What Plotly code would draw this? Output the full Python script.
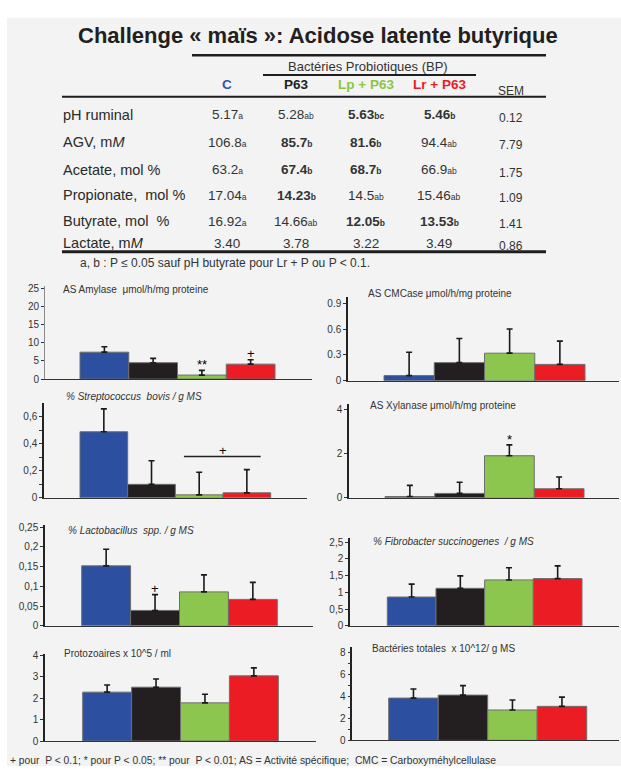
import plotly.graph_objects as go

W, H = 621, 772

# ---------------- data ----------------
title = "Challenge « maïs »: Acidose latente butyrique"
group_header = "Bactéries Probiotiques (BP)"
groups = ["C", "P63", "Lp + P63", "Lr + P63"]

row_labels = ["pH ruminal", "AGV, m<i>M</i>", "Acetate, mol %", "Propionate,  mol %",
              "Butyrate, mol  %", "Lactate, m<i>M</i>"]
val_C = ["5.17", "106.8", "63.2", "17.04", "16.92", "3.40"]
let_C = ["a", "a", "a", "a", "a", ""]
bold_C = [0, 0, 0, 0, 0, 0]
val_P63 = ["5.28", "85.7", "67.4", "14.23", "14.66", "3.78"]
let_P63 = ["ab", "b", "b", "b", "ab", ""]
bold_P63 = [0, 1, 1, 1, 0, 0]
val_Lp = ["5.63", "81.6", "68.7", "14.5", "12.05", "3.22"]
let_Lp = ["bc", "b", "b", "ab", "b", ""]
bold_Lp = [1, 1, 1, 0, 1, 0]
val_Lr = ["5.46", "94.4", "66.9", "15.46", "13.53", "3.49"]
let_Lr = ["b", "ab", "ab", "ab", "b", ""]
bold_Lr = [1, 0, 0, 0, 1, 0]
sem_vals = ["0.12", "7.79", "1.75", "1.09", "1.41", "0.86"]
table_note = "a, b : P ≤ 0.05 sauf pH butyrate pour Lr + P ou P < 0.1."
footnote = "+ pour  P < 0.1; * pour P < 0.05; ** pour  P < 0.01; AS = Activité spécifique;  CMC = Carboxyméhylcellulase"

amylase = [7.4, 4.5, 1.1, 4.1]
amylase_err = [1.5, 1.2, 1.3, 1.2]
amylase_sig = ["", "", "**", "+"]
amylase_ticks = [0, 5, 10, 15, 20, 25]
amylase_ticktext = ["0", "5", "10", "15", "20", "25"]

cmcase = [0.06, 0.21, 0.32, 0.19]
cmcase_err = [0.27, 0.28, 0.28, 0.27]
cmcase_sig = ["", "", "", ""]
cmcase_ticks = [0, 0.3, 0.6, 0.9]
cmcase_ticktext = ["0", "0.3", "0.6", "0.9"]

strep = [0.49, 0.10, 0.022, 0.037]
strep_err = [0.17, 0.175, 0.168, 0.172]
strep_sig = ["", "", "", ""]
strep_ticks = [0, 0.2, 0.4, 0.6]
strep_ticktext = ["0", "0,2", "0,4", "0,6"]
strep_bracket = 0.307

xylanase = [0.06, 0.2, 1.9, 0.41]
xylanase_err = [0.5, 0.5, 0.49, 0.53]
xylanase_sig = ["", "", "*", ""]
xylanase_ticks = [0, 2, 4]
xylanase_ticktext = ["0", "2", "4"]

lacto = [0.152, 0.039, 0.086, 0.067]
lacto_err = [0.042, 0.04, 0.043, 0.043]
lacto_sig = ["", "+", "", ""]
lacto_ticks = [0, 0.05, 0.1, 0.15, 0.2, 0.25]
lacto_ticktext = ["0", "0,05", "0,1", "0,15", "0,2", "0,25"]

fibro = [0.86, 1.12, 1.37, 1.41]
fibro_err = [0.385, 0.37, 0.365, 0.38]
fibro_sig = ["", "", "", ""]
fibro_ticks = [0, 0.5, 1, 1.5, 2, 2.5]
fibro_ticktext = ["0", "0,5", "1", "1,5", "2", "2,5"]

proto = [2.28, 2.51, 1.78, 3.04]
proto_err = [0.33, 0.38, 0.40, 0.37]
proto_sig = ["", "", "", ""]
proto_ticks = [0, 1, 2, 3, 4]
proto_ticktext = ["0", "1", "2", "3", "4"]

bact = [3.83, 4.1, 2.75, 3.08]
bact_err = [0.83, 0.86, 0.9, 0.84]
bact_sig = ["", "", "", ""]
bact_ticks = [0, 2, 4, 6, 8]
bact_ticktext = ["0", "2", "4", "6", "8"]

# ---------------- styles ----------------
FONT = "Liberation Sans, Arial, sans-serif"
bar_colors = ["#2c4f9f", "#231f20", "#8dc64f", "#ec1c24"]
head_colors = ["#3355b5", "#222222", "#8dc63f", "#ec1c24"]
TXT = "#2a2a2a"


def px(p):
    return p / W


def py(p):
    return 1 - p / H


def note(x, y, text, size, color="#333", xa="center", ya="middle", **kw):
    return dict(xref="paper", yref="paper", x=px(x), y=py(y), text=text, showarrow=False,
                xanchor=xa, yanchor=ya, font=dict(size=size, color=color), **kw)


panels = [
    dict(title="AS Amylase  μmol/h/mg proteine", v=amylase, e=amylase_err, s=amylase_sig,
         tv=amylase_ticks, tt=amylase_ticktext, top=25.5, box=(45, 312, 380, 286),
         bars=(80, 275), tpos=(61, 289), minor=None, lc="#8a8a8a", lw=1),
    dict(title="AS CMCase μmol/h/mg proteine", v=cmcase, e=cmcase_err, s=cmcase_sig,
         tv=cmcase_ticks, tt=cmcase_ticktext, top=0.97, box=(348, 619, 381.7, 297),
         bars=(384, 585), tpos=(366, 293), minor=None, lc="#222", lw=1.5),
    dict(title="<i>% Streptococcus  bovis / g MS</i>", v=strep, e=strep_err, s=strep_sig,
         tv=strep_ticks, tt=strep_ticktext, top=0.705, box=(44, 307, 500.3, 404),
         bars=(80, 270.7), tpos=(64, 398), minor=[0.1, 0.3, 0.5], lc="#222", lw=1.5),
    dict(title="AS Xylanase μmol/h/mg proteine", v=xylanase, e=xylanase_err, s=xylanase_sig,
         tv=xylanase_ticks, tt=xylanase_ticktext, top=4.25, box=(349, 619, 500.3, 405),
         bars=(385, 584), tpos=(368, 407), minor=None, lc="#222", lw=1.5),
    dict(title="<i>% Lactobacillus  spp. / g MS</i>", v=lacto, e=lacto_err, s=lacto_sig,
         tv=lacto_ticks, tt=lacto_ticktext, top=0.255, box=(45, 313, 630, 528),
         bars=(81.7, 277.3), tpos=(66, 533.5), minor=None, lc="#222", lw=1.5),
    dict(title="<i>% Fibrobacter succinogenes  / g MS</i>", v=fibro, e=fibro_err, s=fibro_sig,
         tv=fibro_ticks, tt=fibro_ticktext, top=2.63, box=(350, 619, 630, 540.7),
         bars=(387.3, 582), tpos=(371, 545), minor=None, lc="#222", lw=1.5),
    dict(title="Protozoaires x 10^5 / ml", v=proto, e=proto_err, s=proto_sig,
         tv=proto_ticks, tt=proto_ticktext, top=4.07, box=(45, 315.7, 746.7, 658.3),
         bars=(82.7, 278.3), tpos=(62, 658.5), minor=None, lc="#222", lw=1.5),
    dict(title="Bactéries totales  x 10^12/ g MS", v=bact, e=bact_err, s=bact_sig,
         tv=bact_ticks, tt=bact_ticktext, top=8.5, box=(352.3, 619, 746, 651),
         bars=(388.7, 586.7), tpos=(370, 652.5), minor=[1, 3, 5, 7], lc="#222", lw=1.5),
]

fig = go.Figure()
layout = dict(width=W, height=H, margin=dict(l=0, r=0, t=0, b=0), showlegend=False,
              paper_bgcolor="white", plot_bgcolor="rgba(0,0,0,0)",
              font=dict(family=FONT, color=TXT))
annotations = []
shapes = []

# background panel
shapes.append(dict(type="rect", xref="paper", yref="paper", x0=px(7), x1=1, y0=0, y1=py(14),
                   fillcolor="#f2f3f2", line=dict(width=0), layer="below"))

for k, p in enumerate(panels, start=1):
    xs = "" if k == 1 else str(k)
    bl, br, y0, yt = p["box"]
    b0, b1 = p["bars"]
    w = (b1 - b0) / 4
    xr = [-0.5 - (b0 - bl) / w, 3.5 + (br - b1) / w]
    fig.add_trace(go.Bar(
        x=[0, 1, 2, 3], y=p["v"], width=[1] * 4,
        marker=dict(color=bar_colors, line=dict(color="#6e6e6e", width=1)),
        error_y=dict(type="data", symmetric=False, array=p["e"], arrayminus=[0] * 4,
                     color="#1a1a1a", thickness=1.6, width=3),
        xaxis="x" + xs, yaxis="y" + xs, hoverinfo="skip"))
    layout["xaxis" + xs] = dict(domain=[px(bl), px(br)], range=xr, anchor="y" + xs,
                                showline=True, linecolor="#333", linewidth=1.3,
                                showticklabels=False, showgrid=False, zeroline=False, ticks="")
    ya = dict(domain=[py(y0), py(yt)], range=[0, p["top"]], anchor="x" + xs,
              showline=True, linecolor=p["lc"], linewidth=p["lw"],
              tickmode="array", tickvals=p["tv"], ticktext=p["tt"],
              ticks="outside", ticklen=3, tickcolor="#333", tickwidth=1,
              tickfont=dict(size=10, color="#333", family=FONT),
              showgrid=False, zeroline=False)
    if p["minor"]:
        ya["minor"] = dict(tickvals=p["minor"], ticks="outside", ticklen=3, tickcolor="#333")
    layout["yaxis" + xs] = ya
    annotations.append(note(p["tpos"][0], p["tpos"][1], p["title"], 10, xa="left"))
    for i, m in enumerate(p["s"]):
        if m:
            annotations.append(dict(xref="x" + xs, yref="y" + xs, x=i, y=p["v"][i] + p["e"][i],
                                    text=m, showarrow=False, xanchor="center", yanchor="bottom",
                                    yshift=-4 if "*" in m else -3,
                                    font=dict(size=13, color="#000000")))

# Streptococcus bracket over Lp and Lr
shapes.append(dict(type="line", xref="x3", yref="y3", x0=2 - 0.32, x1=3 + 0.29,
                   y0=strep_bracket, y1=strep_bracket, line=dict(color="#222", width=1.5)))
annotations.append(dict(xref="x3", yref="y3", x=2.5, y=strep_bracket, text="+", showarrow=False,
                        xanchor="center", yanchor="bottom", yshift=-4,
                        font=dict(size=13, color="#000000")))

# ---------------- table ----------------
annotations.append(note(317.5, 32, "<b>" + title + "</b>", 22, color="#231f20"))
for (x0, x1, yy, lw) in [(192, 546, 52, 2.5), (263, 476, 72, 2), (62, 546, 94, 2), (62, 546, 251, 3)]:
    shapes.append(dict(type="line", xref="paper", yref="paper", x0=px(x0), x1=px(x1),
                       y0=py(yy), y1=py(yy), line=dict(color="#1e1e1e", width=lw)))
annotations.append(note(368, 63, group_header, 13))
col_x = [227, 296, 366, 439]
for g, cx, c in zip(groups, col_x, head_colors):
    annotations.append(note(cx, 82, "<b>" + g + "</b>", 13.5, color=c))
annotations.append(note(511, 88, "SEM", 12))

row_y = [112, 140, 168, 194, 220, 242.5]
cols = [(val_C, let_C, bold_C), (val_P63, let_P63, bold_P63),
        (val_Lp, let_Lp, bold_Lp), (val_Lr, let_Lr, bold_Lr)]
for r, (lab, yy) in enumerate(zip(row_labels, row_y)):
    annotations.append(note(61, yy, lab, 14.5, color="#2a2a2a", xa="left"))
    for (vals, lets, bolds), cx in zip(cols, col_x):
        t = vals[r]
        if lets[r]:
            t += '<span style="font-size:8.5px">' + lets[r] + "</span>"
        if bolds[r]:
            t = "<b>" + t + "</b>"
        annotations.append(note(cx, yy, t, 13.5))
    annotations.append(note(511, yy + 3, sem_vals[r], 12))
annotations.append(note(78, 262, table_note, 12, xa="left"))
annotations.append(note(8, 766, footnote, 10.3, xa="left"))

layout["annotations"] = annotations
layout["shapes"] = shapes
fig.update_layout(**layout)
fig.write_html("out.html", config={"displayModeBar": False},
               post_script="document.body.style.margin='0';document.body.style.overflow='hidden';")
